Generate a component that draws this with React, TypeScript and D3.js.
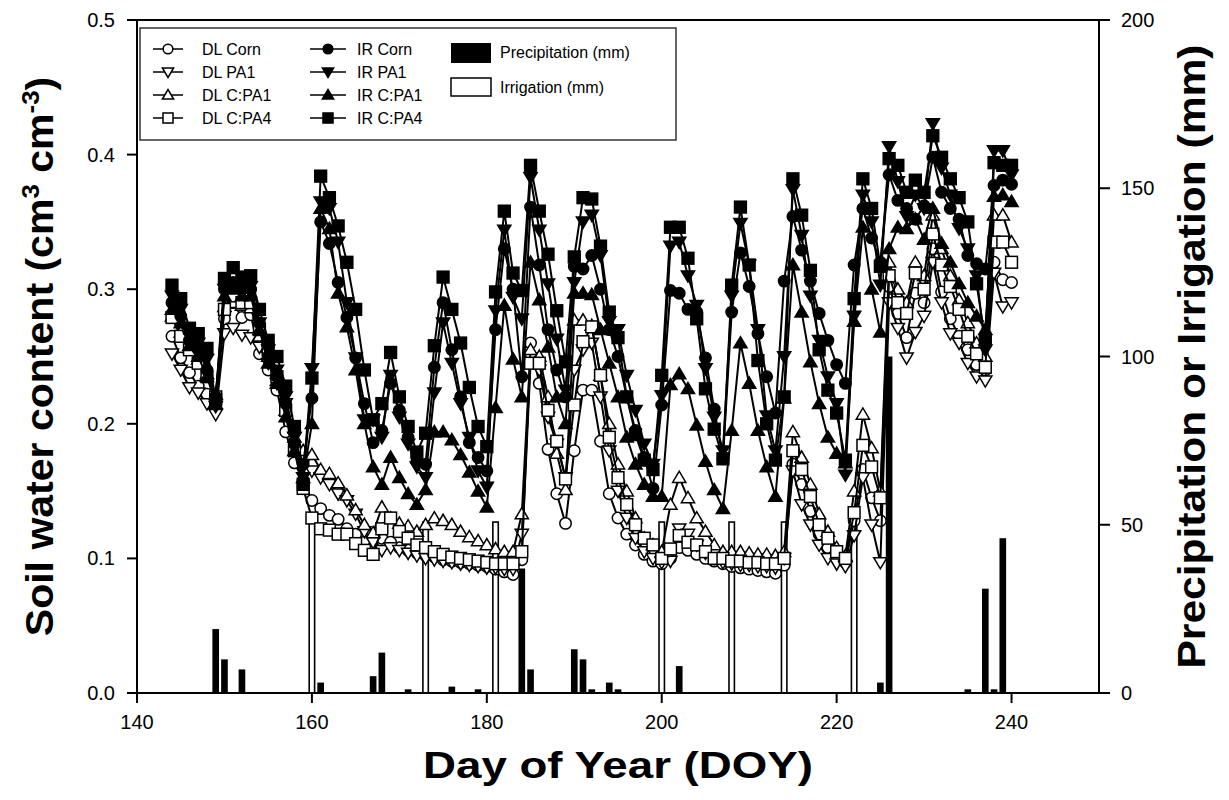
import React from "react";
import * as d3 from "d3";

// Daily soil water content, DOY 144 .. 240
const FIRST_DOY = 144;

const irCPA4 = [
  0.303, 0.293, 0.271, 0.267, 0.256, 0.218, 0.308, 0.316, 0.309, 0.310,
  0.285, 0.262, 0.250, 0.228, 0.198, 0.155, 0.234, 0.384, 0.368, 0.347,
  0.320, 0.285, 0.240, 0.203, 0.215, 0.253, 0.220, 0.198, 0.179, 0.193,
  0.258, 0.309, 0.285, 0.260, 0.227, 0.198, 0.183, 0.298, 0.358, 0.312,
  0.299, 0.392, 0.358, 0.326, 0.284, 0.246, 0.324, 0.368, 0.367, 0.332,
  0.283, 0.264, 0.220, 0.192, 0.173, 0.166, 0.236, 0.346, 0.346, 0.323,
  0.278, 0.226, 0.196, 0.174, 0.303, 0.361, 0.318, 0.247, 0.200, 0.173,
  0.220, 0.382, 0.355, 0.314, 0.255, 0.225, 0.208, 0.173, 0.293, 0.382,
  0.360, 0.317, 0.397, 0.392, 0.372, 0.381, 0.372, 0.414, 0.398, 0.382,
  0.368, 0.350, 0.304, 0.262, 0.394, 0.392, 0.392,
];

const irPA1 = [
  0.295, 0.285, 0.265, 0.260, 0.248, 0.213, 0.300, 0.305, 0.300, 0.302,
  0.275, 0.255, 0.240, 0.220, 0.190, 0.160, 0.241, 0.365, 0.360, 0.335,
  0.290, 0.249, 0.203, 0.203, 0.190, 0.236, 0.205, 0.185, 0.168, 0.160,
  0.223, 0.275, 0.245, 0.215, 0.190, 0.165, 0.153, 0.284, 0.344, 0.294,
  0.278, 0.383, 0.344, 0.304, 0.263, 0.225, 0.305, 0.350, 0.355, 0.325,
  0.276, 0.270, 0.236, 0.210, 0.185, 0.170, 0.221, 0.332, 0.335, 0.310,
  0.288, 0.241, 0.205, 0.180, 0.295, 0.349, 0.318, 0.270, 0.206, 0.180,
  0.250, 0.374, 0.340, 0.295, 0.262, 0.235, 0.215, 0.162, 0.280, 0.370,
  0.350, 0.303, 0.406, 0.380, 0.354, 0.370, 0.360, 0.423, 0.390, 0.370,
  0.345, 0.330, 0.310, 0.255, 0.403, 0.403, 0.385,
];

const irCorn = [
  0.290, 0.280, 0.262, 0.255, 0.240, 0.220, 0.300, 0.305, 0.300, 0.300,
  0.275, 0.250, 0.235, 0.215, 0.185, 0.170, 0.219, 0.350, 0.334, 0.305,
  0.279, 0.249, 0.215, 0.186, 0.195, 0.230, 0.210, 0.190, 0.172, 0.170,
  0.242, 0.290, 0.255, 0.220, 0.186, 0.175, 0.165, 0.270, 0.330, 0.300,
  0.235, 0.361, 0.318, 0.270, 0.240, 0.220, 0.317, 0.315, 0.325, 0.300,
  0.270, 0.250, 0.220, 0.195, 0.175, 0.152, 0.214, 0.299, 0.297, 0.285,
  0.283, 0.249, 0.211, 0.174, 0.283, 0.327, 0.302, 0.267, 0.235, 0.208,
  0.306, 0.354, 0.329, 0.306, 0.282, 0.262, 0.244, 0.230, 0.318, 0.360,
  0.338, 0.320, 0.385, 0.366, 0.360, 0.352, 0.362, 0.398, 0.372, 0.360,
  0.352, 0.325, 0.319, 0.315, 0.377, 0.381, 0.378,
];

const irCPA1 = [
  0.285, 0.275, 0.258, 0.250, 0.235, 0.215, 0.295, 0.300, 0.295, 0.295,
  0.270, 0.245, 0.230, 0.205, 0.180, 0.160, 0.200, 0.360, 0.345, 0.297,
  0.272, 0.240, 0.200, 0.168, 0.155, 0.175, 0.160, 0.148, 0.140, 0.151,
  0.194, 0.194, 0.188, 0.177, 0.164, 0.150, 0.138, 0.212, 0.288, 0.248,
  0.220, 0.320, 0.292, 0.257, 0.220, 0.200, 0.297, 0.297, 0.296, 0.270,
  0.245, 0.220, 0.190, 0.170, 0.155, 0.146, 0.146, 0.229, 0.237, 0.226,
  0.199, 0.172, 0.151, 0.137, 0.195, 0.260, 0.230, 0.195, 0.168, 0.146,
  0.219, 0.318, 0.283, 0.246, 0.215, 0.190, 0.178, 0.171, 0.276, 0.346,
  0.300, 0.268, 0.330, 0.346, 0.345, 0.352, 0.337, 0.360, 0.334, 0.320,
  0.304, 0.290, 0.280, 0.270, 0.369, 0.370, 0.365,
];

const dlCPA4 = [
  0.279, 0.265, 0.255, 0.245, 0.235, 0.220, 0.285, 0.295, 0.290, 0.290,
  0.270, 0.255, 0.235, 0.210, 0.180, 0.152, 0.130, 0.122, 0.121, 0.118,
  0.118, 0.111, 0.106, 0.103, 0.122, 0.130, 0.120, 0.115, 0.110, 0.108,
  0.105, 0.103, 0.101, 0.100, 0.099, 0.098, 0.097, 0.096, 0.096, 0.096,
  0.105, 0.245, 0.245, 0.210, 0.187, 0.159, 0.214, 0.261, 0.272, 0.236,
  0.190, 0.160, 0.140, 0.125, 0.115, 0.110, 0.100, 0.107, 0.117, 0.112,
  0.110, 0.105, 0.100, 0.100, 0.098, 0.098, 0.097, 0.097, 0.096, 0.096,
  0.100, 0.180, 0.166, 0.146, 0.125, 0.115, 0.105, 0.100, 0.134, 0.184,
  0.168, 0.145, 0.310, 0.290, 0.282, 0.312, 0.300, 0.341, 0.318, 0.302,
  0.285, 0.265, 0.252, 0.242, 0.335, 0.335, 0.320,
];

const dlCPA1 = [
  0.280, 0.268, 0.258, 0.248, 0.237, 0.222, 0.287, 0.290, 0.288, 0.286,
  0.265, 0.250, 0.232, 0.210, 0.190, 0.180, 0.177, 0.166, 0.163, 0.156,
  0.147, 0.136, 0.125, 0.119, 0.138, 0.130, 0.126, 0.124, 0.120, 0.125,
  0.130, 0.128, 0.125, 0.120, 0.116, 0.113, 0.110, 0.107, 0.105, 0.105,
  0.133, 0.255, 0.250, 0.220, 0.178, 0.151, 0.277, 0.277, 0.273, 0.236,
  0.200, 0.170, 0.150, 0.130, 0.115, 0.110, 0.105, 0.140, 0.160, 0.145,
  0.130, 0.120, 0.110, 0.105, 0.105, 0.105, 0.104, 0.103, 0.103, 0.102,
  0.105, 0.194, 0.175, 0.155, 0.133, 0.120, 0.108, 0.102, 0.150, 0.207,
  0.182, 0.150, 0.320, 0.300, 0.290, 0.320, 0.310, 0.355, 0.330, 0.310,
  0.292, 0.275, 0.260, 0.250, 0.355, 0.355, 0.335,
];

const dlPA1 = [
  0.252, 0.240, 0.227, 0.223, 0.215, 0.207, 0.267, 0.271, 0.266, 0.264,
  0.257, 0.245, 0.230, 0.215, 0.190, 0.170, 0.165, 0.160, 0.155, 0.148,
  0.143, 0.133, 0.120, 0.112, 0.106, 0.108, 0.106, 0.104, 0.102, 0.100,
  0.099, 0.098, 0.097, 0.096, 0.095, 0.094, 0.093, 0.093, 0.092, 0.092,
  0.118, 0.249, 0.240, 0.205, 0.185, 0.160, 0.240, 0.255, 0.260, 0.220,
  0.180, 0.150, 0.130, 0.115, 0.105, 0.100, 0.097, 0.098, 0.122, 0.118,
  0.110, 0.104, 0.100, 0.097, 0.096, 0.095, 0.095, 0.094, 0.094, 0.093,
  0.100, 0.165, 0.140, 0.125, 0.110, 0.100, 0.096, 0.094, 0.117, 0.160,
  0.125, 0.097, 0.290, 0.271, 0.249, 0.268, 0.280, 0.320, 0.290, 0.267,
  0.260, 0.245, 0.235, 0.232, 0.312, 0.287, 0.290,
];

const dlCorn = [
  0.265, 0.249, 0.238, 0.228, 0.222, 0.218, 0.278, 0.290, 0.279, 0.281,
  0.252, 0.240, 0.225, 0.194, 0.171, 0.158, 0.143, 0.137, 0.132, 0.129,
  0.122, 0.118, 0.112, 0.108, 0.115, 0.112, 0.108, 0.106, 0.104, 0.102,
  0.101, 0.099, 0.098, 0.097, 0.096, 0.095, 0.094, 0.092, 0.090, 0.088,
  0.099, 0.260, 0.230, 0.181, 0.148, 0.126, 0.180, 0.225, 0.225, 0.187,
  0.148, 0.130, 0.118, 0.110, 0.103, 0.098, 0.096, 0.100, 0.108, 0.106,
  0.103, 0.100, 0.098, 0.096, 0.094, 0.093, 0.092, 0.091, 0.090, 0.089,
  0.095, 0.170, 0.155, 0.135, 0.118, 0.108, 0.100, 0.097, 0.128, 0.166,
  0.145, 0.128, 0.302, 0.282, 0.264, 0.297, 0.290, 0.330, 0.298, 0.278,
  0.265, 0.255, 0.244, 0.240, 0.320, 0.307, 0.305,
];

// Precipitation and irrigation events (mm)
const precipDoy = [149, 150, 152, 161, 167, 168, 171, 176, 179, 184, 185, 190, 191, 192, 194, 195, 202, 225, 226, 235, 237, 238, 239];
const precipMm = [19, 10, 7, 3.1, 5, 12, 1.1, 1.9, 1.1, 37, 7, 13, 10, 1.1, 3.1, 1.1, 8, 3.1, 100, 1.1, 31, 1.1, 46];
const irrigDoy = [160, 173, 181, 200, 208, 214, 222];
const irrigMm = [50.8, 50.8, 50.8, 50.8, 50.8, 50.8, 50.8];

const doyTicks = [140, 160, 180, 200, 220, 240];
const swcTicks = [0, 0.1, 0.2, 0.3, 0.4, 0.5];
const mmTicks = [0, 50, 100, 150, 200];

type Shape = "circle" | "triDown" | "triUp" | "square";
const series: { name: string; values: number[]; shape: Shape; filled: boolean }[] = [
  { name: "DL Corn", values: dlCorn, shape: "circle", filled: false },
  { name: "DL PA1", values: dlPA1, shape: "triDown", filled: false },
  { name: "DL C:PA1", values: dlCPA1, shape: "triUp", filled: false },
  { name: "DL C:PA4", values: dlCPA4, shape: "square", filled: false },
  { name: "IR Corn", values: irCorn, shape: "circle", filled: true },
  { name: "IR PA1", values: irPA1, shape: "triDown", filled: true },
  { name: "IR C:PA1", values: irCPA1, shape: "triUp", filled: true },
  { name: "IR C:PA4", values: irCPA4, shape: "square", filled: true },
];

const FONT = "'Liberation Sans', Arial, Helvetica, sans-serif";
const W = 1229;
const H = 800;
const L = 137;
const R = 1099;
const T = 20;
const B = 693;

const x = d3.scaleLinear().domain([140, 250]).range([L, R]);
const y = d3.scaleLinear().domain([0, 0.5]).range([B, T]);
const y2 = d3.scaleLinear().domain([0, 200]).range([B, T]);

function Marker({ shape, filled, cx, cy, s = 1 }: { shape: Shape; filled: boolean; cx: number; cy: number; s?: number }) {
  const fill = filled ? "#000" : "#fff";
  const common = { fill, stroke: "#000", strokeWidth: 1.5 };
  if (shape === "circle") return <circle cx={cx} cy={cy} r={5.7 * s} {...common} />;
  if (shape === "square") return <rect x={cx - 5.9 * s} y={cy - 5.9 * s} width={11.8 * s} height={11.8 * s} {...common} />;
  if (shape === "triUp")
    return <path d={`M${cx - 6.6 * s},${cy + 4.8 * s}L${cx + 6.6 * s},${cy + 4.8 * s}L${cx},${cy - 6.4 * s}Z`} {...common} />;
  return <path d={`M${cx - 6.6 * s},${cy - 4.8 * s}L${cx + 6.6 * s},${cy - 4.8 * s}L${cx},${cy + 6.4 * s}Z`} {...common} />;
}

export default function App() {
  const line = d3
    .line<number>()
    .x((_, i) => x(FIRST_DOY + i))
    .y((v) => y(v));

  const precipW = 0.76 * (x(1) - x(0));
  const irrigW = 0.62 * (x(1) - x(0));

  const legendRows = [49, 72, 95, 118];
  const midY = (T + B) / 2;

  return (
    <svg width={W} height={H} style={{ position: "absolute", left: 0, top: 0, background: "#fff" }} fontFamily={FONT}>
      <rect x={0} y={0} width={W} height={H} fill="#fff" />

      {/* precipitation bars */}
      {precipDoy.map((d, i) => (
        <rect key={"p" + d} x={x(d) - precipW / 2} y={y2(precipMm[i])} width={precipW} height={B - y2(precipMm[i])} fill="#000" />
      ))}
      {/* irrigation bars */}
      {irrigDoy.map((d, i) => (
        <rect
          key={"i" + d}
          x={x(d) - irrigW / 2}
          y={y2(irrigMm[i])}
          width={irrigW}
          height={B - y2(irrigMm[i])}
          fill="#fff"
          stroke="#000"
          strokeWidth={1.6}
        />
      ))}

      {/* series lines and markers */}
      {series.map((s) => (
        <g key={s.name}>
          <path d={line(s.values) || ""} fill="none" stroke="#000" strokeWidth={2} strokeLinejoin="round" />
          {s.values.map((v, i) => (
            <Marker key={i} shape={s.shape} filled={s.filled} cx={x(FIRST_DOY + i)} cy={y(v)} />
          ))}
        </g>
      ))}

      {/* frame */}
      <rect x={L} y={T} width={R - L} height={B - T} fill="none" stroke="#000" strokeWidth={2} />

      {/* bottom axis */}
      {doyTicks.map((t) => (
        <g key={"x" + t}>
          <line x1={x(t)} x2={x(t)} y1={B} y2={B + 10} stroke="#000" strokeWidth={2} />
          <text x={x(t)} y={B + 36} fontSize={20} textAnchor="middle">
            {t}
          </text>
        </g>
      ))}
      {/* left axis */}
      {swcTicks.map((t) => (
        <g key={"y" + t}>
          <line x1={L - 10} x2={L} y1={y(t)} y2={y(t)} stroke="#000" strokeWidth={2} />
          <text x={L - 22} y={y(t) + 7} fontSize={20} textAnchor="end">
            {d3.format(".1f")(t)}
          </text>
        </g>
      ))}
      {/* right axis */}
      {mmTicks.map((t) => (
        <g key={"r" + t}>
          <line x1={R} x2={R + 11} y1={y2(t)} y2={y2(t)} stroke="#000" strokeWidth={2} />
          <text x={R + 22} y={y2(t) + 7} fontSize={20} textAnchor="start">
            {t}
          </text>
        </g>
      ))}

      {/* axis titles */}
      <text x={(L + R) / 2} y={778} fontSize={36} fontWeight="bold" textAnchor="middle" textLength={390} lengthAdjust="spacingAndGlyphs">
        Day of Year (DOY)
      </text>
      <g transform={`translate(53,${midY}) rotate(-90) scale(1.08,1)`}>
        <text x={0} y={0} fontSize={38} fontWeight="bold" textAnchor="middle">
          Soil water content (cm
          <tspan dy={-14} fontSize={24}>3</tspan>
          <tspan dy={14}> cm</tspan>
          <tspan dy={-14} fontSize={24}>-3</tspan>
          <tspan dy={14}>)</tspan>
        </text>
      </g>
      <g transform={`translate(1205,${midY}) rotate(-90) scale(1.12,1)`}>
        <text x={0} y={0} fontSize={38} fontWeight="bold" textAnchor="middle">
          Precipitation or Irrigation (mm)
        </text>
      </g>

      {/* legend */}
      <rect x={140} y={28} width={536} height={112} fill="#fff" stroke="#333" strokeWidth={1.5} />
      {series.map((s, i) => {
        const col = i < 4 ? 0 : 1;
        const row = i % 4;
        const cy = legendRows[row];
        const x0 = col === 0 ? 153 : 310;
        const x1 = col === 0 ? 183 : 346;
        const cx = (x0 + x1) / 2;
        const tx = col === 0 ? 202 : 357;
        return (
          <g key={"lg" + s.name}>
            <line x1={x0} x2={x1} y1={cy} y2={cy} stroke="#000" strokeWidth={1.5} />
            <Marker shape={s.shape} filled={s.filled} cx={cx} cy={cy} s={0.85} />
            <text x={tx} y={cy + 6} fontSize={16}>
              {s.name}
            </text>
          </g>
        );
      })}
      <rect x={451} y={43} width={40} height={20} fill="#000" />
      <text x={500} y={58} fontSize={16}>
        Precipitation (mm)
      </text>
      <rect x={451} y={78} width={40} height={18} fill="#fff" stroke="#000" strokeWidth={1.5} />
      <text x={500} y={93} fontSize={16}>
        Irrigation (mm)
      </text>
    </svg>
  );
}
